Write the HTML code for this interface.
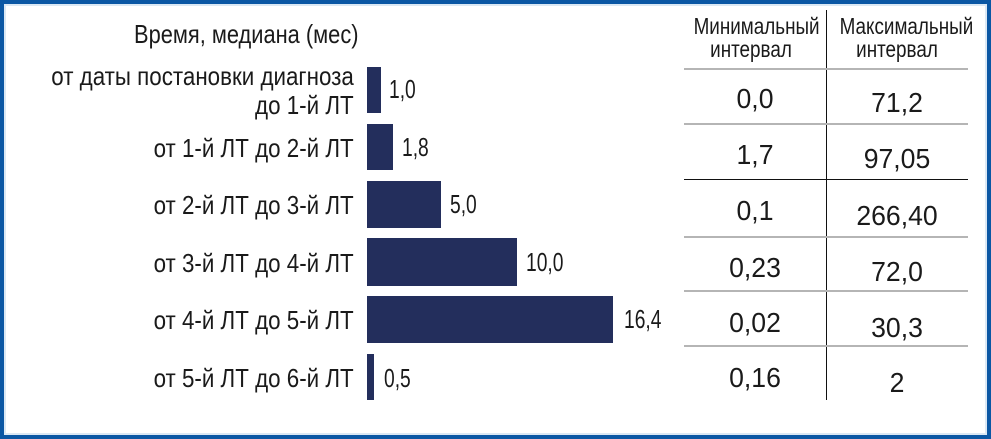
<!DOCTYPE html><html><head><meta charset="utf-8"><style>
body{margin:0;width:991px;height:439px;overflow:hidden;background:#fff;font-family:"Liberation Sans",sans-serif;color:#1a1a1a}
.frame{position:absolute;left:0;top:0;width:983px;height:431px;border:4px solid #0b57a4;box-shadow:inset 0 0 0 2px #dbe8f4}
.t{position:absolute;white-space:nowrap;font-size:26px;line-height:26px}
.lab{transform:scaleX(.86)}
.val{transform:scaleX(.74)}
.tv{font-size:28px;line-height:28px;transform:scaleX(.95)}
.hd{font-size:23px;line-height:22px;transform:scaleX(.82)}
.r{transform-origin:right center;text-align:right}
.l{transform-origin:left center}
.c{transform-origin:center center;text-align:center;width:140px}
.bar{position:absolute;left:367px;background:#232e5c}
.h{position:absolute;left:684px;width:284px;height:2px;background:#b5b5b5}
</style></head><body><div class="frame"></div>
<div class="t l" style="left:134px;top:21px;transform:scaleX(.84)">Время, медиана (мес)</div>
<div class="t r lab" style="right:637px;top:63px">от даты постановки диагноза</div>
<div class="t r lab" style="right:637px;top:92px">до 1-й ЛТ</div>
<div class="t r lab" style="right:637px;top:135px">от 1-й ЛТ до 2-й ЛТ</div>
<div class="t r lab" style="right:637px;top:192px">от 2-й ЛТ до 3-й ЛТ</div>
<div class="t r lab" style="right:637px;top:250px">от 3-й ЛТ до 4-й ЛТ</div>
<div class="t r lab" style="right:637px;top:307px">от 4-й ЛТ до 5-й ЛТ</div>
<div class="t r lab" style="right:637px;top:365px">от 5-й ЛТ до 6-й ЛТ</div>
<div class="bar" style="top:67px;width:14px;height:46px"></div>
<div class="bar" style="top:124px;width:26px;height:46px"></div>
<div class="bar" style="top:181px;width:74px;height:47px"></div>
<div class="bar" style="top:238px;width:150px;height:48px"></div>
<div class="bar" style="top:296px;width:246px;height:47px"></div>
<div class="bar" style="top:354px;width:7px;height:46px"></div>
<div class="t l val" style="left:389px;top:76px">1,0</div>
<div class="t l val" style="left:402px;top:134px">1,8</div>
<div class="t l val" style="left:450px;top:191px">5,0</div>
<div class="t l val" style="left:526px;top:249px">10,0</div>
<div class="t l val" style="left:624px;top:306px">16,4</div>
<div class="t l val" style="left:384px;top:365px">0,5</div>
<div style="position:absolute;left:826px;top:10px;width:1px;height:390px;background:#111"></div>
<div class="h" style="top:68px"></div><div class="h" style="top:123px"></div>
<div class="h" style="top:179px;background:#111;height:1px"></div>
<div class="h" style="top:236px"></div><div class="h" style="top:290px"></div><div class="h" style="top:345px"></div>
<div class="t c hd" style="left:681px;top:15px">Минимальный</div>
<div class="t c hd" style="left:681px;top:38px">интервал</div>
<div class="t c hd" style="left:827px;top:15px">Максимальный</div>
<div class="t c hd" style="left:827px;top:38px">интервал</div>
<div class="t c tv" style="left:685px;top:85px">0,0</div><div class="t c tv" style="left:827px;top:89px">71,2</div>
<div class="t c tv" style="left:685px;top:141px">1,7</div><div class="t c tv" style="left:827px;top:145px">97,05</div>
<div class="t c tv" style="left:685px;top:197px">0,1</div><div class="t c tv" style="left:827px;top:202px">266,40</div>
<div class="t c tv" style="left:685px;top:254px">0,23</div><div class="t c tv" style="left:827px;top:258px">72,0</div>
<div class="t c tv" style="left:685px;top:309px">0,02</div><div class="t c tv" style="left:827px;top:314px">30,3</div>
<div class="t c tv" style="left:685px;top:364px">0,16</div><div class="t c tv" style="left:827px;top:369px">2</div>
</body></html>
